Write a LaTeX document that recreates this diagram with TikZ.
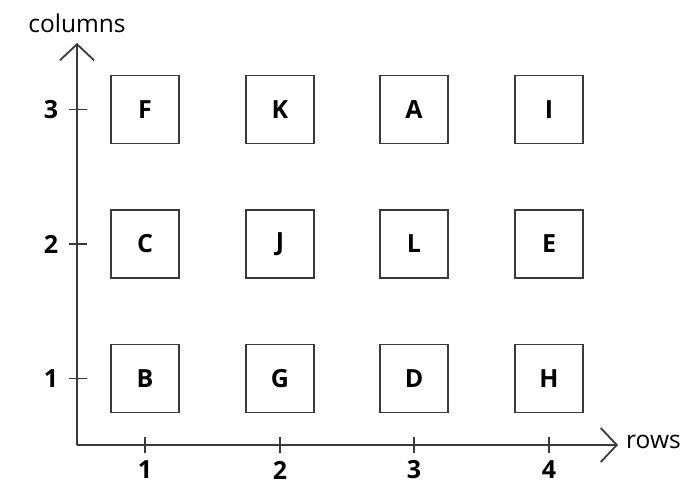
\documentclass[tikz,border=0pt]{standalone}
\usepackage{fontspec}
\setmainfont{Open Sans}
\usetikzlibrary{arrows.meta}
\definecolor{linegray}{HTML}{3A3A3A}
\begin{document}
\begin{tikzpicture}[x=1pt,y=-1pt,
  cell/.style={draw=linegray,line width=1.8pt,minimum width=68pt,minimum height=68pt,inner sep=0pt,font=\fontsize{25}{30}\selectfont\bfseries},
  axis/.style={draw=linegray,line width=1.8pt,-{Straight Barb[length=16pt,width=34pt,line width=1.8pt]}},
  tickmark/.style={draw=linegray,line width=1.5pt},
  numlab/.style={font=\fontsize{25}{30}\selectfont\bfseries,inner sep=0pt},
  axlab/.style={font=\fontsize{24.5}{29}\selectfont,inner sep=0pt}]
\useasboundingbox (0,0) rectangle (692,491);
\coordinate (o) at (77,445);
\coordinate (ytop) at (77,43);
\coordinate (xend) at (618,445);
\draw[axis] (o) -- (ytop);
\draw[axis] (o) -- (xend);
\node[axlab] (colslab) at (77,23) {columns};
\node[axlab,anchor=west] (rowslab) at (626,442) {rows};
% boxes
\foreach \name/\lab/\cx/\cy in {f/F/145/109.5,k/K/280/109.5,a/A/414/109.5,i/I/549/109.5,
  c/C/145/244,j/J/280/244,l/L/414/244,e/E/549/244,
  b/B/145/378.5,g/G/280/378.5,d/D/414/378.5,h/H/549/378.5}
  \node[cell] (\name) at (\cx,\cy) {\lab};
% ticks on x axis
\foreach \i/\cx in {1/145,2/280,3/414,4/549}{
  \coordinate (xt\i a) at (\cx,437);
  \coordinate (xt\i b) at (\cx,453);
  \draw[tickmark] (xt\i a) -- (xt\i b);
  \node[numlab] (xl\i) at (\cx,470) {\i};
}
% ticks on y axis
\foreach \i/\cy in {1/378.5,2/244,3/109.5}{
  \coordinate (yt\i a) at (69,\cy);
  \coordinate (yt\i b) at (87,\cy);
  \draw[tickmark] (yt\i a) -- (yt\i b);
  \node[numlab] (yl\i) at (51,\cy) {\i};
}
\end{tikzpicture}
\end{document}
